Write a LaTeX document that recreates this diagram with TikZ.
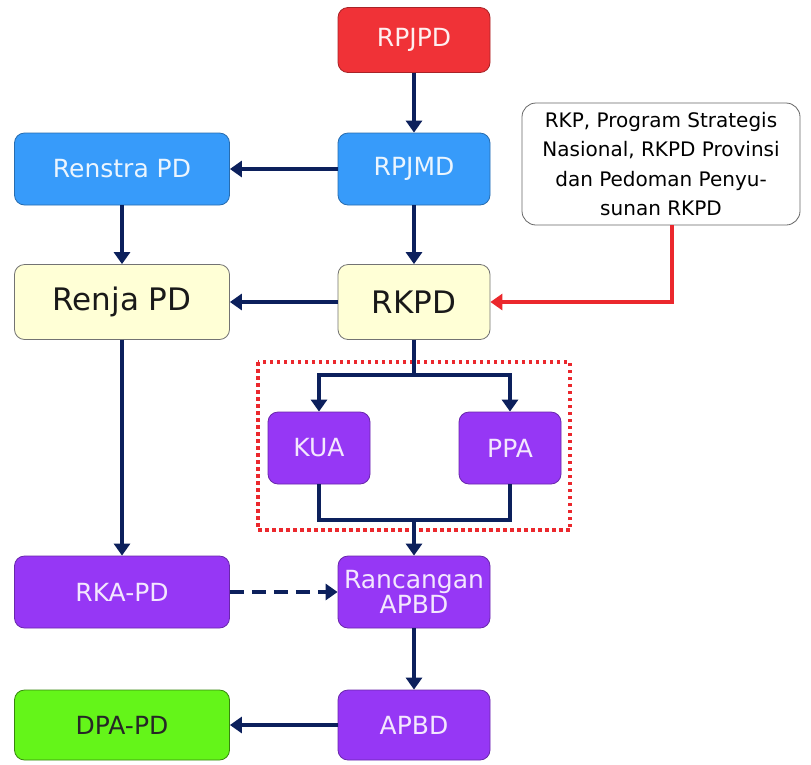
\documentclass[tikz,border=0pt]{standalone}
\usepackage{fontspec}
\setmainfont{DejaVu Sans}
\definecolor{planred}{RGB}{240, 50, 55}
\definecolor{planblue}{RGB}{55, 155, 250}
\definecolor{planyellow}{RGB}{255, 255, 214}
\definecolor{planviolet}{RGB}{150, 55, 245}
\definecolor{plangreen}{RGB}{100, 245, 25}
\definecolor{navy1}{RGB}{12, 32, 92}
\definecolor{linkred}{RGB}{235, 40, 45}
\usetikzlibrary{arrows.meta, positioning, calc}

\tikzset{
  docbox/.style={rounded corners=10pt, line width=0.8pt, align=center, inner sep=2pt,
    minimum width=152pt, minimum height=72pt, font=\fontsize{25}{25}\selectfont},
  redbox/.style={docbox, fill=planred, draw=planred!70!black, text=white!92!planred},
  bluebox/.style={docbox, fill=planblue, draw=planblue!70!black, text=white!90!planblue},
  yellowbox/.style={docbox, fill=planyellow, draw=black!55, text=black!90,
    minimum height=75pt, font=\fontsize{31}{32}\selectfont},
  violetbox/.style={docbox, fill=planviolet, draw=planviolet!70!black, text=white!88!planviolet},
  greenbox/.style={docbox, fill=plangreen, draw=plangreen!55!black, text=black!85},
  flow/.style={line width=4.5pt, navy1, -{Triangle[width=16pt,length=12pt]}},
  flowline/.style={line width=4.5pt, navy1},
}

\begin{document}
\begin{tikzpicture}[x=1pt, y=-1pt]
  \useasboundingbox[fill=white] (0,0) rectangle (811,764);

  % Top chain
  \node[redbox, minimum height=65pt] (rpjpd) at (414, 40) {RPJPD};
  \node[bluebox] (rpjmd) at (414, 169) {RPJMD};
  \node[bluebox, minimum width=215pt] (renstra) at (122, 169) {Renstra PD};

  % External input
  \node[draw=black!60, line width=0.8pt, fill=white, rounded corners=14pt, align=center,
    minimum width=278pt, minimum height=122pt, inner sep=2pt,
    font=\fontsize{20}{29.5}\selectfont] (rkp) at (661, 164) {
    RKP, Program Strategis\\Nasional, RKPD Provinsi\\dan Pedoman Penyu-\\sunan RKPD
  };

  % Work plans
  \node[yellowbox, minimum width=215pt] (renja) at (122, 302) {Renja PD};
  \node[yellowbox] (rkpd) at (414, 302) {RKPD};

  % Budget policy
  \node[violetbox, minimum width=102pt] (kua) at (319, 448) {KUA};
  \node[violetbox, minimum width=102pt] (ppa) at (510, 448) {PPA};
  \draw[linkred, line width=3.5pt, dash pattern=on 3.5pt off 3.5pt] (258, 362) rectangle (570, 530);

  % Budget
  \node[violetbox, minimum width=215pt] (rka) at (122, 592) {RKA-PD};
  \node[violetbox] (rapbd) at (414, 592) {Rancangan\\APBD};
  \node[greenbox, minimum width=215pt, minimum height=70pt] (dpa) at (122, 725) {DPA-PD};
  \node[violetbox, minimum height=70pt] (apbd) at (414, 725) {APBD};

  \coordinate (split) at (414, 375);
  \coordinate (join) at (414, 520);
  \coordinate (bend) at ([xshift=11pt]rkp.south);

  % Connectors
  \draw[flow] (rpjpd) -- (rpjmd);
  \draw[flow] (rpjmd) -- (renstra);
  \draw[flow] (rpjmd) -- (rkpd);
  \draw[flow] (renstra) -- (renja);
  \draw[flow] (rkpd) -- (renja);
  \draw[line width=4.5pt, linkred, -{Triangle[width=16pt,length=12pt]}] (bend) |- (rkpd.east);
  \draw[flowline] (rkpd.south) -- (split);
  \draw[flow] (split) -| (kua.north);
  \draw[flow] (split) -| (ppa.north);
  \draw[flowline] (kua.south) |- (join) -| (ppa.south);
  \draw[flow] (join) -- (rapbd.north);
  \draw[flow] (renja) -- (rka);
  \draw[flow, dashed, dash pattern=on 14pt off 8pt] (rka) -- (rapbd);
  \draw[flow] (rapbd) -- (apbd);
  \draw[flow] (apbd) -- (dpa);
\end{tikzpicture}
\end{document}
